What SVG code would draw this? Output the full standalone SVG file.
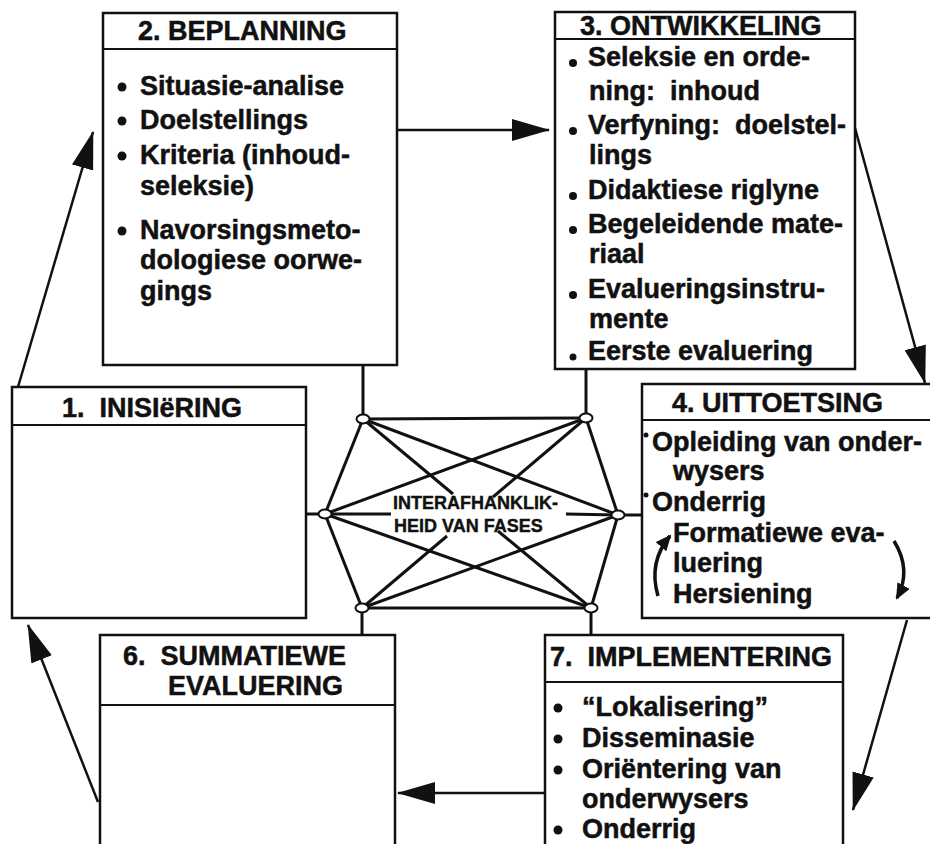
<svg xmlns="http://www.w3.org/2000/svg" width="930" height="844" viewBox="0 0 930 844">
<defs>
<style>
.box{fill:#fff;stroke:#111;stroke-width:2.5}
.hd{stroke:#111;stroke-width:2}
.t{font-family:"Liberation Sans",Arial,Helvetica,sans-serif;font-weight:bold;font-size:27px;fill:#111;stroke:#111;stroke-width:0.5;white-space:pre}
.c{font-family:"Liberation Sans",Arial,Helvetica,sans-serif;font-weight:bold;font-size:18px;fill:#111;stroke:#111;stroke-width:0.4;white-space:pre}
.b{fill:#111}
.ln{stroke:#111;stroke-width:3;fill:none}
.ar{stroke:#111;stroke-width:2.5;fill:none;marker-end:url(#ah)}
.sa{stroke:#111;stroke-width:3.5;fill:none;marker-end:url(#sh)}
.nd{fill:#fff;stroke:#111;stroke-width:2}
</style>
<marker id="ah" markerUnits="userSpaceOnUse" markerWidth="40" markerHeight="24" refX="37" refY="11" orient="auto">
<path d="M0,0 L38,11 L0,22 z" fill="#111"/>
</marker>
<marker id="sh" markerUnits="userSpaceOnUse" markerWidth="18" markerHeight="16" refX="14" refY="7" orient="auto">
<path d="M0,0 L16,7 L0,14 z" fill="#111"/>
</marker>
</defs>
<rect width="930" height="844" fill="#fff"/>

<g id="connectors">
<line class="ar" x1="18" y1="387" x2="93" y2="132"/>
<line class="ar" x1="397" y1="130" x2="549" y2="130"/>
<line class="ar" x1="855" y1="128" x2="925" y2="383"/>
<line class="ar" x1="907" y1="620" x2="853" y2="810"/>
<line class="ar" x1="545" y1="793" x2="398" y2="793"/>
<line class="ar" x1="98" y1="802" x2="28" y2="625"/>
<line class="ln" x1="363" y1="365" x2="363" y2="419"/>
<line class="ln" x1="586" y1="369" x2="586" y2="418"/>
<line class="ln" x1="306" y1="514" x2="325" y2="514"/>
<line class="ln" x1="618" y1="515" x2="642" y2="515"/>
<line class="ln" x1="362" y1="608" x2="362" y2="635"/>
<line class="ln" x1="591" y1="608" x2="591" y2="635"/>
<line class="ln" x1="363" y1="419" x2="586" y2="418"/>
<line class="ln" x1="363" y1="419" x2="325" y2="514"/>
<line class="ln" x1="363" y1="419" x2="618" y2="515"/>
<line class="ln" x1="363" y1="419" x2="453" y2="494"/>
<line class="ln" x1="498" y1="531" x2="591" y2="608"/>
<line class="ln" x1="586" y1="418" x2="325" y2="514"/>
<line class="ln" x1="586" y1="418" x2="618" y2="515"/>
<line class="ln" x1="586" y1="418" x2="493" y2="497"/>
<line class="ln" x1="447" y1="536" x2="362" y2="608"/>
<line class="ln" x1="325" y1="514" x2="391" y2="514"/>
<line class="ln" x1="566" y1="514" x2="618" y2="515"/>
<line class="ln" x1="325" y1="514" x2="362" y2="608"/>
<line class="ln" x1="325" y1="514" x2="591" y2="608"/>
<line class="ln" x1="618" y1="515" x2="362" y2="608"/>
<line class="ln" x1="618" y1="515" x2="591" y2="608"/>
<line class="ln" x1="362" y1="608" x2="591" y2="608"/>
</g>

<g id="hub">
<ellipse class="nd" cx="363" cy="419" rx="6.5" ry="4.5"/>
<ellipse class="nd" cx="586" cy="418" rx="6.5" ry="4.5"/>
<ellipse class="nd" cx="325" cy="514" rx="6.5" ry="4.5"/>
<ellipse class="nd" cx="618" cy="515" rx="6.5" ry="4.5"/>
<ellipse class="nd" cx="362" cy="608" rx="6.5" ry="4.5"/>
<ellipse class="nd" cx="591" cy="608" rx="6.5" ry="4.5"/>
<text class="c" x="393" y="509">INTERAFHANKLIK-</text>
<text class="c" x="394" y="532">HEID VAN FASES</text>
</g>

<g id="node1">
<rect class="box" x="12" y="387" width="294" height="231"/>
<line class="hd" x1="12" y1="425" x2="306" y2="425"/>
<text class="t" x="62" y="417">1.  INISIëRING</text>
</g>

<g id="node2">
<rect class="box" x="103" y="13" width="294" height="352"/>
<line class="hd" x1="103" y1="49" x2="397" y2="49"/>
<text class="t" x="138" y="40">2. BEPLANNING</text>
<circle class="b" cx="122" cy="87" r="4.5"/>
<circle class="b" cx="122" cy="121" r="4.5"/>
<circle class="b" cx="122" cy="156" r="4.5"/>
<circle class="b" cx="122" cy="231" r="4.5"/>
<text class="t" x="140" y="95">Situasie-analise</text>
<text class="t" x="140" y="129">Doelstellings</text>
<text class="t" x="140" y="164">Kriteria (inhoud-</text>
<text class="t" x="140" y="195">seleksie)</text>
<text class="t" x="140" y="239">Navorsingsmeto-</text>
<text class="t" x="140" y="269">dologiese oorwe-</text>
<text class="t" x="140" y="300">gings</text>
</g>

<g id="node3">
<rect class="box" x="555" y="12" width="300" height="357"/>
<line class="hd" x1="555" y1="39" x2="855" y2="39"/>
<text class="t" x="580" y="35">3. ONTWIKKELING</text>
<circle class="b" cx="573" cy="63" r="4"/>
<circle class="b" cx="573" cy="131" r="4"/>
<circle class="b" cx="573" cy="196" r="4"/>
<circle class="b" cx="573" cy="230" r="4"/>
<circle class="b" cx="573" cy="295" r="4"/>
<circle class="b" cx="573" cy="357" r="3.5"/>
<text class="t" x="588" y="66">Seleksie en orde-</text>
<text class="t" x="589" y="100">ning:  inhoud</text>
<text class="t" x="588" y="134">Verfyning:  doelstel-</text>
<text class="t" x="589" y="164">lings</text>
<text class="t" x="588" y="199">Didaktiese riglyne</text>
<text class="t" x="588" y="233">Begeleidende mate-</text>
<text class="t" x="589" y="263">riaal</text>
<text class="t" x="588" y="298">Evalueringsinstru-</text>
<text class="t" x="589" y="328">mente</text>
<text class="t" x="588" y="360">Eerste evaluering</text>
</g>

<g id="node4">
<rect class="box" x="642" y="384" width="292" height="234"/>
<line class="hd" x1="642" y1="420" x2="934" y2="420"/>
<text class="t" x="672" y="412">4. UITTOETSING</text>
<circle class="b" cx="646" cy="435" r="2.5"/>
<circle class="b" cx="646" cy="495" r="2.5"/>
<text class="t" x="652" y="451">Opleiding van onder-</text>
<text class="t" x="673" y="480">wysers</text>
<text class="t" x="652" y="511">Onderrig</text>
<text class="t" x="673" y="542">Formatiewe eva-</text>
<text class="t" x="673" y="572">luering</text>
<text class="t" x="673" y="603">Hersiening</text>
<path class="sa" d="M658,596 Q648,562 670,536"/>
<path class="sa" d="M894,541 Q912,570 897,598"/>
</g>

<g id="node6">
<rect class="box" x="100" y="635" width="295" height="220"/>
<line class="hd" x1="100" y1="705" x2="395" y2="705"/>
<text class="t" x="123" y="665">6.  SUMMATIEWE</text>
<text class="t" x="168" y="695">EVALUERING</text>
</g>

<g id="node7">
<rect class="box" x="545" y="635" width="298" height="220"/>
<line class="hd" x1="545" y1="682" x2="843" y2="682"/>
<text class="t" x="550" y="666">7.  IMPLEMENTERING</text>
<circle class="b" cx="558" cy="708" r="4.5"/>
<circle class="b" cx="558" cy="739" r="4.5"/>
<circle class="b" cx="558" cy="770" r="4.5"/>
<circle class="b" cx="558" cy="830" r="4.5"/>
<text class="t" x="582" y="716">“Lokalisering”</text>
<text class="t" x="582" y="747">Disseminasie</text>
<text class="t" x="582" y="778">Oriëntering van</text>
<text class="t" x="582" y="808">onderwysers</text>
<text class="t" x="582" y="838">Onderrig</text>
</g>
</svg>
